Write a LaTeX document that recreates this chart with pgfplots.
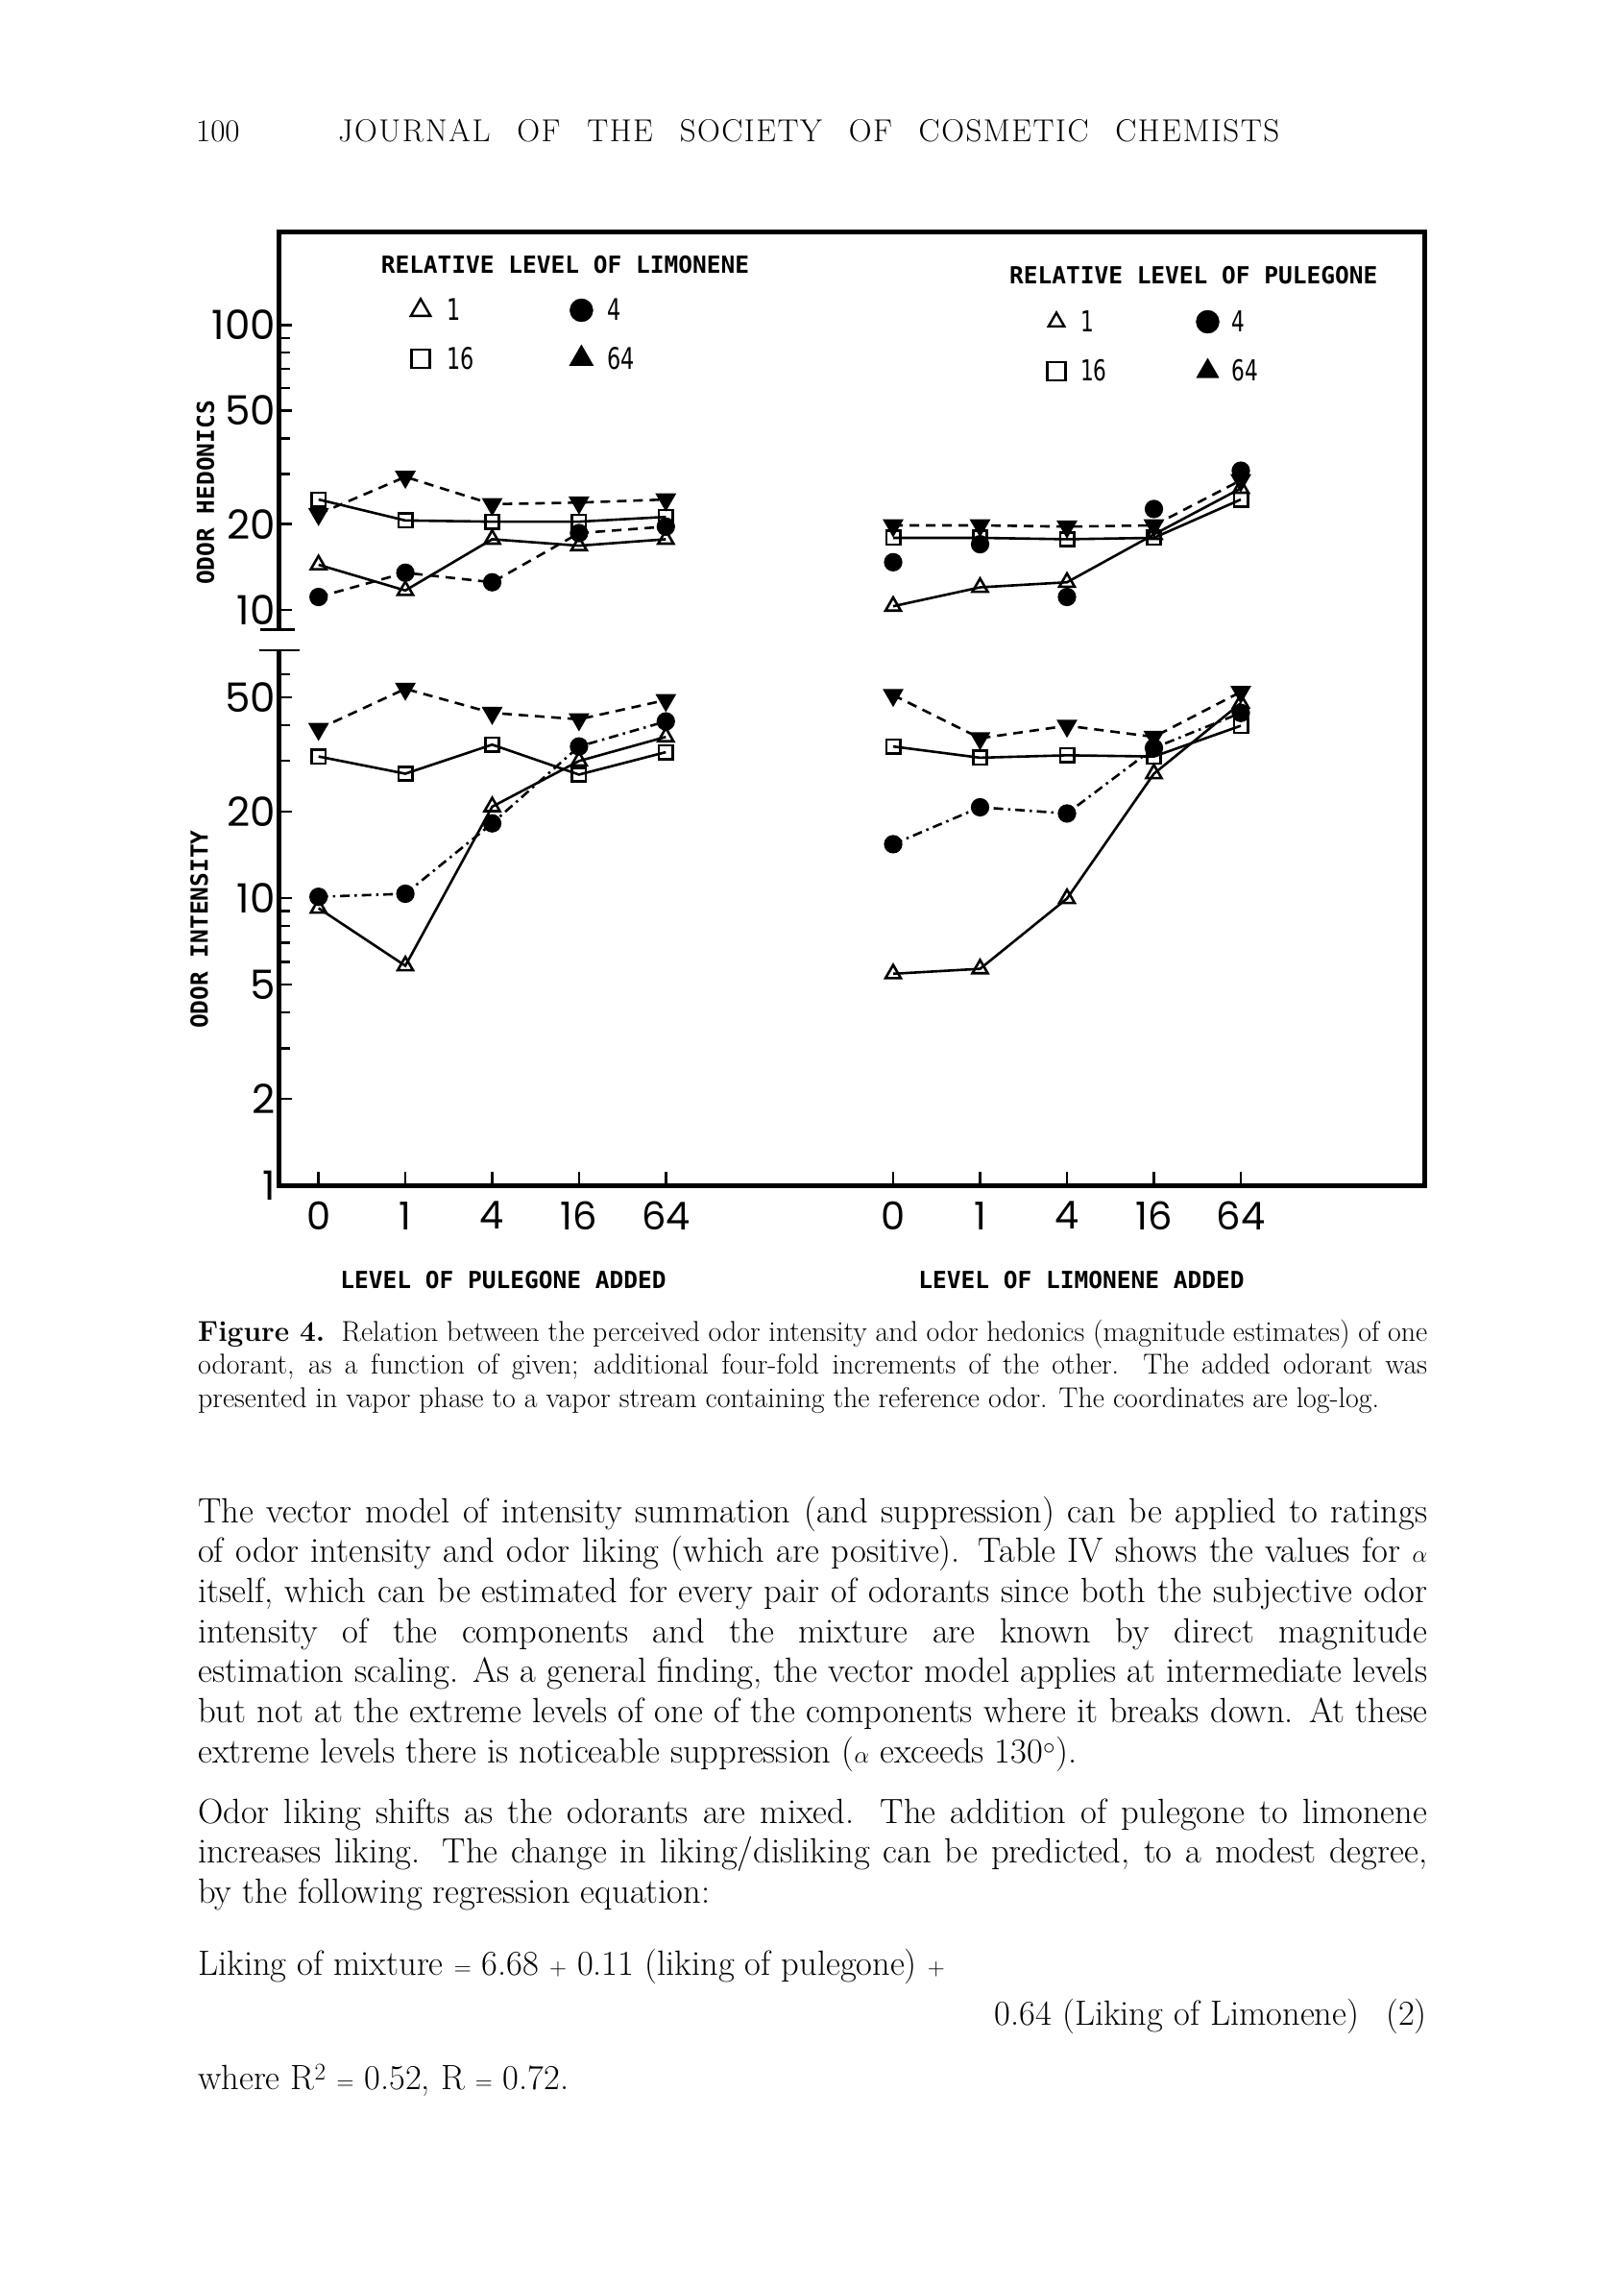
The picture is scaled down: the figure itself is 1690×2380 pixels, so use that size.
\documentclass[border=0pt]{standalone}
\usepackage{pgfplots}
\pgfplotsset{compat=1.18}
\usepackage{graphicx}
\usepackage{fontspec}
\newfontfamily\poppins{Poppins}
\newfontfamily\mono{DejaVu Sans Mono}
\newfontfamily\dvs{DejaVu Sans}
\newcommand\fs[2]{\fontsize{#1pt}{#2pt}\selectfont}
\newcommand\lab{\mono\bfseries\fs{24.5}{26}}
\newcommand\cnd[1]{\scalebox{0.72}[1]{#1}}
% letter-spaced word for the running head
\def\so#1{\soi#1\relax}
\def\soi#1{\ifx#1\relax\else#1\kern1.5pt\relax\expandafter\soi\fi}

\pgfplotsset{
  every axis/.append style={scale only axis, anchor=south west, clip=false,
    axis line style={draw=none}, tick align=inside,
    tick style={black, line width=2.4pt},
    major tick length=14pt, minor tick length=12pt,
    xticklabel style={font=\poppins\fs{40}{44}, inner sep=0pt, anchor=north, yshift=-17pt},
    yticklabel style={font=\poppins\fs{42}{46}, inner sep=0pt, anchor=east, xshift=-3pt}},
  mytri/.style={black, solid, line width=2.6pt, mark=triangle, mark size=9.2pt, mark options={solid, fill=white}},
  mysqr/.style={black, solid, line width=2.6pt, mark=square, mark size=7.2pt, mark options={solid, fill=white}},
  mydot/.style={black, line width=2.6pt, mark=*, mark size=8.3pt, mark options={solid}},
  myinv/.style={black, line width=2.6pt, mark=triangle*, mark size=10pt, mark options={solid, rotate=180}},
  mydsh/.style={dash pattern=on 10pt off 7pt},
  mydshdot/.style={dash pattern=on 10pt off 5pt on 2.5pt off 5pt},
}

\newcommand\jline[2]{\node[anchor=base west, inner sep=0pt, font=\fs{36.5}{41}] at (206pt,-#1pt) {\makebox[1280pt][s]{#2}};}
\newcommand\pline[2]{\node[anchor=base west, inner sep=0pt, font=\fs{36.5}{41}] at (206pt,-#1pt) {#2};}
\newcommand\capj[2]{\node[anchor=base west, inner sep=0pt, font=\fs{29.9}{34}] at (206pt,-#1pt) {\makebox[1280pt][s]{#2}};}
\newcommand\capl[2]{\node[anchor=base west, inner sep=0pt, font=\fs{29.9}{34}] at (206pt,-#1pt) {#2};}

\begin{document}
\begin{tikzpicture}
\path[use as bounding box] (0pt,0pt) rectangle (1690pt,-2380pt);

% running head
\node[anchor=base west, inner sep=0pt, font=\fs{33}{38}] at (204pt,-147pt) {100};
\node[anchor=base west, inner sep=0pt, font=\fs{33}{38}] at (352pt,-147pt)
  {\makebox[980pt][s]{\so{JOURNAL} \so{OF} \so{THE} \so{SOCIETY} \so{OF} \so{COSMETIC} \so{CHEMIST}S}};

% hedonics, pulegone added
\begin{axis}[ymode=log, at={(290pt,-655pt)}, width=448.5pt, height=414pt,
  xmin=-0.461, xmax=4.5, ymin=8.56, ymax=212.8,
  xtick=\empty, ytick pos=left,
  ytick={10,20,50,100}, yticklabels={10,20,50,100},
  minor ytick={30,40,60,70,80,90},
  legend columns=2, legend cell align=left,
  legend image code/.code={\draw[#1] plot coordinates {(0pt,0pt)};
      \path[draw=none, fill=none] (-13pt,-13pt) rectangle (13pt,13pt);},
  legend style={at={(rel axis cs:0.301,0.8333)}, anchor=north west, draw=none, fill=none,
      inner sep=0pt, outer sep=0pt, row sep=23pt,
      nodes={inner sep=0pt, anchor=west, font=\dvs\fs{31}{31}},
      /tikz/every odd column/.append style={column sep=14pt},
      /tikz/every even column/.append style={column sep=99pt}}]
\addlegendimage{mark=triangle, mark size=11.8pt, line width=2.4pt, mark options={fill=white}}
\addlegendentry{\cnd{1}}
\addlegendimage{mark=*, mark size=12pt}
\addlegendentry{\cnd{4}}
\addlegendimage{mark=square, mark size=9.6pt, line width=2.4pt, mark options={fill=white}}
\addlegendentry{\cnd{16}}
\addlegendimage{mark=triangle*, mark size=14.5pt}
\addlegendentry{\cnd{64}}
\addplot[mydot, mydsh, forget plot] coordinates {(0,11.1) (1,13.5) (2,12.5) (3,18.6) (4,19.6)};
\addplot[myinv, mydsh, forget plot] coordinates {(0,21.7) (1,29.3) (2,23.5) (3,23.8) (4,24.4)};
\addplot[mysqr, forget plot] coordinates {(0,24.4) (1,20.6) (2,20.4) (3,20.4) (4,21.2)};
\addplot[mytri, forget plot] coordinates {(0,14.4) (1,11.7) (2,17.7) (3,16.8) (4,17.7)};
\end{axis}

% hedonics, limonene added
\begin{axis}[ymode=log, at={(884.75pt,-655pt)}, width=452.5pt, height=414pt,
  xmin=-0.5, xmax=4.5, ymin=8.56, ymax=212.8,
  xtick=\empty, ytick=\empty, yminorticks=false,
  legend columns=2, legend cell align=left,
  legend image code/.code={\draw[#1] plot coordinates {(0pt,0pt)};
      \path[draw=none, fill=none] (-13pt,-13pt) rectangle (13pt,13pt);},
  legend style={at={(rel axis cs:0.447,0.8043)}, anchor=north west, draw=none, fill=none,
      inner sep=0pt, outer sep=0pt, row sep=25pt,
      nodes={inner sep=0pt, anchor=west, font=\dvs\fs{30}{30}},
      /tikz/every odd column/.append style={column sep=12pt},
      /tikz/every even column/.append style={column sep=92pt}}]
\addlegendimage{mark=triangle, mark size=9.5pt, line width=2.4pt, mark options={fill=white}}
\addlegendentry{\cnd{1}}
\addlegendimage{mark=*, mark size=12pt}
\addlegendentry{\cnd{4}}
\addlegendimage{mark=square, mark size=9.6pt, line width=2.4pt, mark options={fill=white}}
\addlegendentry{\cnd{16}}
\addlegendimage{mark=triangle*, mark size=13.5pt}
\addlegendentry{\cnd{64}}
\addplot[myinv, mydsh, forget plot] coordinates {(0,19.8) (1,19.8) (2,19.6) (3,19.8) (4,28.5)};
\addplot[mydot, only marks, forget plot] coordinates {(0,14.7) (1,17.0) (2,11.1) (3,22.6) (4,30.8)};
\addplot[mysqr, forget plot] coordinates {(0,17.9) (1,17.9) (2,17.7) (3,17.9) (4,24.4)};
\addplot[mytri, forget plot] coordinates {(0,10.3) (1,12.0) (2,12.5) (3,18.4) (4,26.7)};
\end{axis}

% intensity, pulegone added
\begin{axis}[ymode=log, at={(290pt,-1234pt)}, width=448.5pt, height=556.5pt,
  xmin=-0.461, xmax=4.5, ymin=1, ymax=72.6,
  xtick={0,...,4}, xticklabels={0,1,4,16,64}, xtick pos=left, ytick pos=left,
  ytick={1,2,5,10,20,50}, yticklabels={1,2,5,10,20,50},
  minor ytick={3,4,6,7,8,9,30,40,60}]
\addplot[myinv, mydsh] coordinates {(0,38.8) (1,53.5) (2,44.1) (3,41.9) (4,48.9)};
\addplot[mydot, mydshdot] coordinates {(0,10.1) (1,10.35) (2,18.2) (3,33.7) (4,41.2)};
\addplot[mysqr] coordinates {(0,31.1) (1,27.1) (2,34.2) (3,26.9) (4,32.2)};
\addplot[mytri] coordinates {(0,9.22) (1,5.81) (2,20.8) (3,30.0) (4,36.4)};
\end{axis}

% intensity, limonene added
\begin{axis}[ymode=log, at={(884.75pt,-1234pt)}, width=452.5pt, height=556.5pt,
  xmin=-0.5, xmax=4.5, ymin=1, ymax=72.6,
  xtick={0,...,4}, xticklabels={0,1,4,16,64}, xtick pos=left,
  ytick=\empty, yminorticks=false]
\addplot[myinv, mydsh] coordinates {(0,50.9) (1,36.0) (2,39.8) (3,36.4) (4,52.2)};
\addplot[mydot, mydshdot] coordinates {(0,15.4) (1,20.7) (2,19.7) (3,33.3) (4,44.1)};
\addplot[mysqr] coordinates {(0,33.7) (1,30.8) (2,31.4) (3,31.1) (4,39.8)};
\addplot[mytri] coordinates {(0,5.45) (1,5.67) (2,9.96) (3,27.1) (4,47.7)};
\end{axis}

% frame, broken left axis
\draw[line width=5pt] (290pt,-655pt) -- (290pt,-241pt) -- (1483pt,-241pt)
  -- (1483pt,-1234pt) -- (290pt,-1234pt) -- (290pt,-677pt);
\draw[line width=2.8pt] (271pt,-655.5pt) -- (307pt,-655.5pt);
\draw[line width=2.8pt] (270pt,-677pt) -- (312pt,-677pt);

% titles inside and around the frame
\node[font=\lab] at (588.5pt,-275.5pt) {RELATIVE LEVEL OF LIMONENE};
\node[font=\lab] at (1242.75pt,-286.7pt) {RELATIVE LEVEL OF PULEGONE};
\node[font=\lab, rotate=90] at (214pt,-513pt) {ODOR HEDONICS};
\node[font=\lab, rotate=90] at (207.5pt,-967.5pt) {ODOR INTENSITY};
\node[font=\lab] at (524pt,-1333pt) {LEVEL OF PULEGONE ADDED};
\node[font=\lab] at (1126pt,-1333pt) {LEVEL OF LIMONENE ADDED};

% caption
\capj{1396}{\textbf{Figure 4.}\ \ Relation between the perceived odor intensity and odor hedonics (magnitude estimates) of one}
\capj{1430.5}{odorant, as a function of given; additional four-fold increments of the other. The added odorant was}
\capl{1465}{presented in vapor phase to a vapor stream containing the reference odor. The coordinates are log-log.}

% body text
\jline{1585}{The vector model of intensity summation (and suppression) can be applied to ratings}
\jline{1626.7}{of odor intensity and odor liking (which are positive). Table IV shows the values for $\alpha$}
\jline{1668.4}{itself, which can be estimated for every pair of odorants since both the subjective odor}
\jline{1710.1}{intensity of the components and the mixture are known by direct magnitude}
\jline{1751.8}{estimation scaling. As a general finding, the vector model applies at intermediate levels}
\jline{1793.5}{but not at the extreme levels of one of the components where it breaks down. At these}
\pline{1835.2}{extreme levels there is noticeable suppression ($\alpha$ exceeds 130$^{\circ}$).}
\jline{1898}{Odor liking shifts as the odorants are mixed. The addition of pulegone to limonene}
\jline{1939.7}{increases liking. The change in liking/disliking can be predicted, to a modest degree,}
\pline{1981.4}{by the following regression equation:}
\pline{2056}{Liking of mixture $=$ 6.68 $+$ 0.11 (liking of pulegone) $+$}
\node[anchor=base east, inner sep=0pt, font=\fs{36.5}{41}] at (1486pt,-2108pt) {0.64 (Liking of Limonene)\hspace{28pt}(2)};
\pline{2175}{where R$^2$ $=$ 0.52, R $=$ 0.72.}
\end{tikzpicture}
\end{document}
